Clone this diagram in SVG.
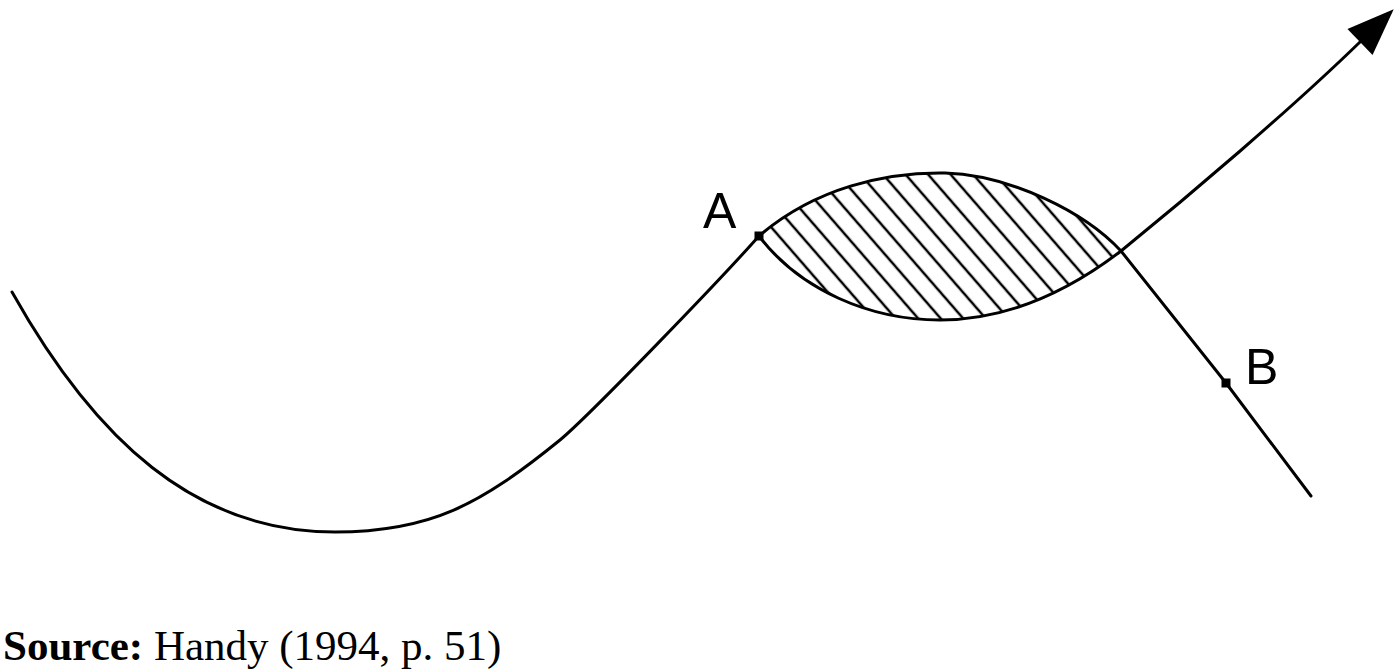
<svg xmlns="http://www.w3.org/2000/svg" width="1400" height="672" viewBox="0 0 1400 672">
<style>
.curve{fill:none;stroke:#000;stroke-width:3;stroke-linecap:round;stroke-linejoin:round}
.hatch{stroke:#000;stroke-width:2.5}
.lbl{font-family:"Liberation Sans",Arial,sans-serif;font-size:50px;fill:#000}
.src{font-family:"Liberation Serif","Times New Roman",serif;font-size:43px;fill:#000}
.pt{fill:#000}
</style>
<defs>
<pattern id="hp" patternUnits="userSpaceOnUse" width="17" height="17" patternTransform="rotate(-41)">
<line class="hatch" x1="8" y1="-2" x2="8" y2="19"/>
</pattern>
<marker id="ah" markerUnits="userSpaceOnUse" markerWidth="50" markerHeight="40" viewBox="0 -20 50 40" refX="0" refY="0" orient="auto" overflow="visible">
<path d="M0,-18 L47,0 L0,18 Z" fill="#000"/>
</marker>
</defs>
<g id="lens">
<path d="M759,236 C815,188 885,172 945,173 C1010,175 1085,212 1121,251 C1070,290 1010,320 940,320 C870,320 800,290 759,236 Z" fill="url(#hp)" stroke="none"/>
</g>
<g id="connectors">
<path id="main-curve" class="curve" d="M12,292 C95,440 195,532 335,532 C430,532 480,505 560,440 C590,415 720,280 759,236"/>
<path id="upper-path" class="curve" d="M759,236 C815,188 885,172 945,173 C1010,175 1085,212 1121,251 L1226,383 L1311,496"/>
<path id="lower-path" class="curve" d="M759,236 C800,290 870,320 940,320 C1010,320 1070,290 1121,251 C1190,195 1290,110 1360,42" marker-end="url(#ah)"/>
</g>
<g id="pointA">
<rect class="pt" x="754.5" y="231.5" width="9" height="9"/>
<text class="lbl" x="703" y="228">A</text>
</g>
<g id="pointB">
<rect class="pt" x="1221.5" y="378.5" width="9" height="9"/>
<text class="lbl" x="1245" y="384">B</text>
</g>
<g id="source">
<text class="src" x="3" y="660"><tspan font-weight="bold">Source:</tspan> Handy (1994, p. 51)</text>
</g>
</svg>
